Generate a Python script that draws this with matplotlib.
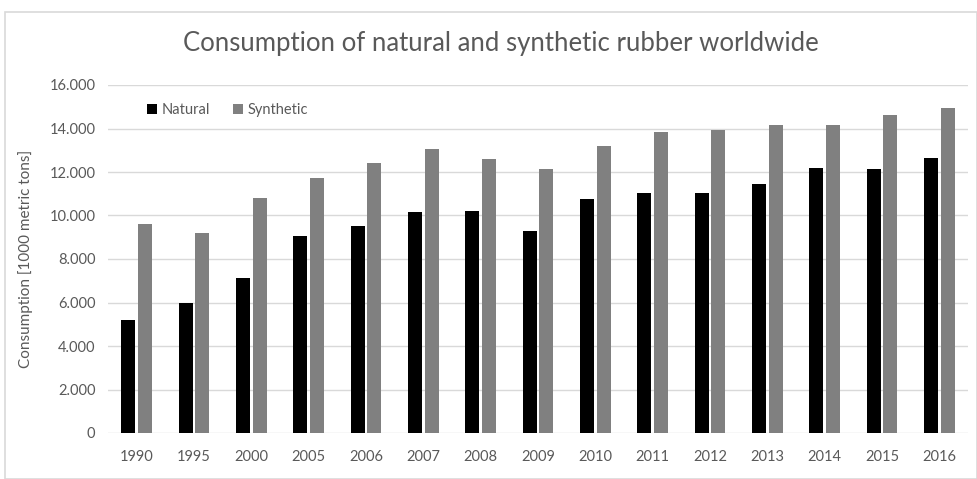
import matplotlib.pyplot as plt
from matplotlib.ticker import FuncFormatter
from matplotlib.patches import Rectangle
import numpy as np

# Verbrauch in 1000 t
years = ["1990", "1995", "2000", "2005", "2006", "2007", "2008", "2009",
         "2010", "2011", "2012", "2013", "2014", "2015", "2016"]
natural = [5200, 5990, 7140, 9080, 9520, 10140, 10190, 9290,
           10750, 11020, 11050, 11450, 12200, 12150, 12630]
synthetic = [9590, 9200, 10800, 11710, 12420, 13060, 12590, 12150,
             13200, 13830, 13930, 14140, 14140, 14620, 14920]

text_col = "#595959"
plt.rcParams['font.family'] = ['Lato', 'DejaVu Sans']

fig = plt.figure(figsize=(9.78, 4.79), dpi=100)
W, H = 978, 479

# rahmen um das diagramm
fig.patches.append(Rectangle((5 / W, 0), 1 - 6 / W, 1 - 12 / H, transform=fig.transFigure,
                             fill=False, edgecolor="#d9d9d9", linewidth=1.2))

ax = fig.add_axes([108 / W, 1 - 433 / H, 860 / W, 348 / H])
x = np.arange(len(years))
w = 0.245
ax.bar(x - 0.145, natural, w, color="black", label="Natural", zorder=3)
ax.bar(x + 0.145, synthetic, w, color="#808080", label="Synthetic", zorder=3)

ax.set_xlim(-0.5, len(years) - 0.5)
ax.set_ylim(0, 16000)
ax.set_yticks(range(0, 16001, 2000))
ax.yaxis.set_major_formatter(FuncFormatter(lambda v, p: f"{int(v):,}".replace(",", ".")))
ax.set_xticks(x)
ax.set_xticklabels(years)
ax.grid(axis="y", color="#d9d9d9", linewidth=1, zorder=0)
for s in ax.spines.values():
    s.set_visible(False)
ax.tick_params(length=0, colors=text_col, labelsize=10.5)
ax.tick_params(axis="x", pad=12)
ax.tick_params(axis="y", pad=9)

ax.set_ylabel("Consumption [1000 metric tons]", color=text_col, fontsize=11, labelpad=12)
fig.text(0.512, 1 - 43 / H, "Consumption of natural and synthetic rubber worldwide",
         ha="center", va="center", fontsize=18.5, color=text_col)

ax.legend(loc="upper left", bbox_to_anchor=(0.03, 0.985), ncol=2, frameon=False,
          fontsize=10.5, labelcolor=text_col, handlelength=0.7, handleheight=0.7,
          handletextpad=0.3, columnspacing=1.6)

fig.savefig("out.png", dpi=100)
